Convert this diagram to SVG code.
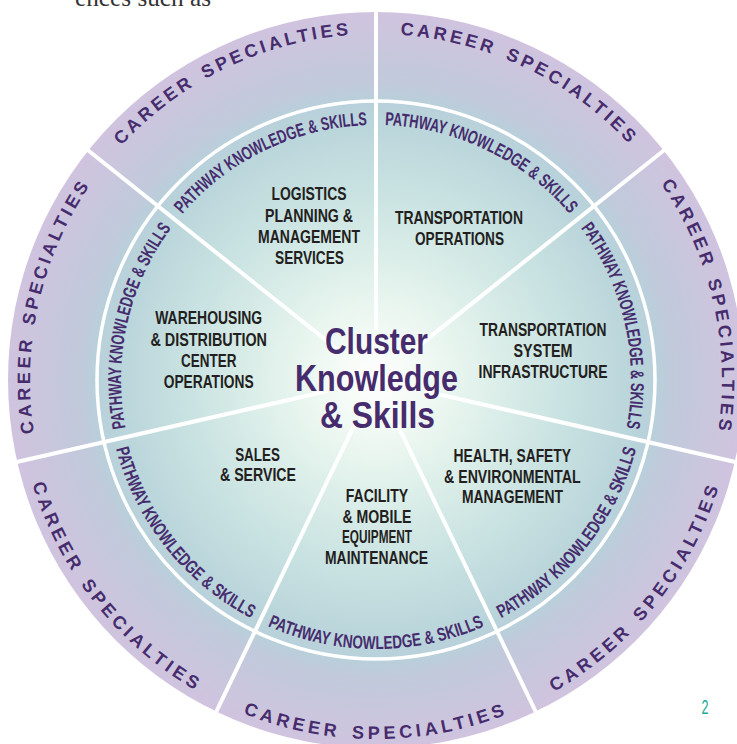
<svg xmlns="http://www.w3.org/2000/svg" width="737" height="744" viewBox="0 0 737 744">
<style>
.lbl{font-family:"Liberation Sans Narrow","Liberation Sans",Arial,sans-serif;font-weight:bold;font-size:18.5px;fill:#231f20;text-anchor:middle}
.ctr{font-family:"Liberation Sans Narrow","Liberation Sans",Arial,sans-serif;font-weight:bold;font-size:37.5px;fill:#462c6d;text-anchor:middle}
.pw{font-family:"Liberation Sans Narrow","Liberation Sans",Arial,sans-serif;font-weight:bold;font-size:18.5px;fill:#462c6d;text-anchor:middle}
.cs{font-family:"Liberation Sans",Arial,sans-serif;font-weight:bold;font-size:18px;fill:#462c6d;text-anchor:middle}
.spoke{stroke:#ffffff;stroke-width:4;fill:none}
</style>
<defs>
<radialGradient id="bg" cx="376" cy="380" r="368" gradientUnits="userSpaceOnUse">
<stop offset="0" stop-color="#ffffff"/>
<stop offset="0.12" stop-color="#f3faf5"/>
<stop offset="0.30" stop-color="#dff0ea"/>
<stop offset="0.50" stop-color="#cae3e2"/>
<stop offset="0.70" stop-color="#bad5db"/>
<stop offset="0.76" stop-color="#b8d0da"/>
<stop offset="0.80" stop-color="#c0cadb"/>
<stop offset="0.92" stop-color="#cac6dd"/>
<stop offset="1" stop-color="#d0c3df"/>
</radialGradient>
<path id="pw1" d="M165.31,236.35 A255,255 0 0 1 395.06,125.71"/>
<path id="pw2" d="M356.94,125.71 A255,255 0 0 1 586.69,236.35"/>
<path id="pw3" d="M562.93,206.56 A255,255 0 0 1 619.67,455.16"/>
<path id="pw4" d="M474.28,630.40 A269,269 0 0 0 642.00,420.09"/>
<path id="pw5" d="M241.5,612.96 A269,269 0 0 0 510.5,612.96"/>
<path id="pw6" d="M110.00,420.09 A269,269 0 0 0 277.72,630.40"/>
<path id="pw7" d="M132.33,455.16 A255,255 0 0 1 189.07,206.56"/>
<path id="cs1" d="M90.12,185.09 A346,346 0 0 1 401.86,34.97"/>
<path id="cs2" d="M350.14,34.97 A346,346 0 0 1 661.88,185.09"/>
<path id="cs3" d="M629.64,144.66 A346,346 0 0 1 706.63,481.99"/>
<path id="cs4" d="M507.16,714.18 A359,359 0 0 0 730.99,433.51"/>
<path id="cs5" d="M196.5,690.90 A359,359 0 0 0 555.5,690.90"/>
<path id="cs6" d="M21.01,433.51 A359,359 0 0 0 244.84,714.18"/>
<path id="cs7" d="M45.37,481.99 A346,346 0 0 1 122.36,144.66"/>
</defs>

<text x="75" y="5.5" font-family="Liberation Serif,serif" font-size="25" fill="#333333" textLength="136" lengthAdjust="spacingAndGlyphs">ences such as</text>

<circle id="disc" cx="376" cy="380" r="368" fill="url(#bg)"/>

<g id="connectors">
<line class="spoke" x1="376" y1="330" x2="376" y2="8"/>
<line class="spoke" x1="415.09" y1="348.83" x2="666.84" y2="148.06"/>
<line class="spoke" x1="424.75" y1="391.13" x2="738.67" y2="462.78"/>
<line class="spoke" x1="397.69" y1="425.05" x2="537.40" y2="715.16"/>
<line class="spoke" x1="354.31" y1="425.05" x2="214.60" y2="715.16"/>
<line class="spoke" x1="327.25" y1="391.13" x2="13.33" y2="462.78"/>
<line class="spoke" x1="336.91" y1="348.83" x2="85.16" y2="148.06"/>
<circle cx="376" cy="380" r="279" fill="none" stroke="#ffffff" stroke-width="3.5"/>
</g>

<g id="center">
<text class="ctr"><tspan x="376.5" y="354" textLength="103" lengthAdjust="spacingAndGlyphs">Cluster</tspan><tspan x="376.5" y="391" textLength="163" lengthAdjust="spacingAndGlyphs">Knowledge</tspan><tspan x="377.5" y="428" textLength="115" lengthAdjust="spacingAndGlyphs">&amp; Skills</tspan></text>
</g>

<g id="logistics">
<text class="lbl"><tspan x="309" y="200" textLength="75" lengthAdjust="spacingAndGlyphs">LOGISTICS</tspan><tspan x="309" y="221.5" textLength="88" lengthAdjust="spacingAndGlyphs">PLANNING &amp;</tspan><tspan x="309" y="242.5" textLength="102" lengthAdjust="spacingAndGlyphs">MANAGEMENT</tspan><tspan x="309.5" y="263.5" textLength="69" lengthAdjust="spacingAndGlyphs">SERVICES</tspan></text>
<text class="pw"><textPath href="#pw1" startOffset="50%" textLength="211" lengthAdjust="spacingAndGlyphs">PATHWAY KNOWLEDGE &amp; SKILLS</textPath></text>
<text class="cs" letter-spacing="3.4" word-spacing="3"><textPath href="#cs1" startOffset="50%">CAREER SPECIALTIES</textPath></text>
</g>

<g id="transportation-operations">
<text class="lbl"><tspan x="459" y="223.5" textLength="128" lengthAdjust="spacingAndGlyphs">TRANSPORTATION</tspan><tspan x="459.5" y="245" textLength="89" lengthAdjust="spacingAndGlyphs">OPERATIONS</tspan></text>
<text class="pw"><textPath href="#pw2" startOffset="50%" textLength="211" lengthAdjust="spacingAndGlyphs">PATHWAY KNOWLEDGE &amp; SKILLS</textPath></text>
<text class="cs" letter-spacing="3.4" word-spacing="3"><textPath href="#cs2" startOffset="50%">CAREER SPECIALTIES</textPath></text>
</g>

<g id="transportation-infrastructure">
<text class="lbl"><tspan x="543" y="336" textLength="127" lengthAdjust="spacingAndGlyphs">TRANSPORTATION</tspan><tspan x="543" y="357" textLength="59" lengthAdjust="spacingAndGlyphs">SYSTEM</tspan><tspan x="543" y="377.5" textLength="129" lengthAdjust="spacingAndGlyphs">INFRASTRUCTURE</tspan></text>
<text class="pw"><textPath href="#pw3" startOffset="50%" textLength="211" lengthAdjust="spacingAndGlyphs">PATHWAY KNOWLEDGE &amp; SKILLS</textPath></text>
<text class="cs" letter-spacing="3.4" word-spacing="3"><textPath href="#cs3" startOffset="50%">CAREER SPECIALTIES</textPath></text>
</g>

<g id="health-safety">
<text class="lbl"><tspan x="512.3" y="461.5" textLength="117.5" lengthAdjust="spacingAndGlyphs">HEALTH, SAFETY</tspan><tspan x="512.3" y="482.5" textLength="136.5" lengthAdjust="spacingAndGlyphs">&amp; ENVIRONMENTAL</tspan><tspan x="512.5" y="503" textLength="101" lengthAdjust="spacingAndGlyphs">MANAGEMENT</tspan></text>
<text class="pw"><textPath href="#pw4" startOffset="50%" textLength="223" lengthAdjust="spacingAndGlyphs">PATHWAY KNOWLEDGE &amp; SKILLS</textPath></text>
<text class="cs" letter-spacing="3.96" word-spacing="3"><textPath href="#cs4" startOffset="50%">CAREER SPECIALTIES</textPath></text>
</g>

<g id="facility-maintenance">
<text class="lbl"><tspan x="377" y="501.5" textLength="62.5" lengthAdjust="spacingAndGlyphs">FACILITY</tspan><tspan x="377" y="522.5" textLength="69" lengthAdjust="spacingAndGlyphs">&amp; MOBILE</tspan><tspan x="377" y="543.3" textLength="70" lengthAdjust="spacingAndGlyphs">EQUIPMENT</tspan><tspan x="376.5" y="564" textLength="103" lengthAdjust="spacingAndGlyphs">MAINTENANCE</tspan></text>
<text class="pw"><textPath href="#pw5" startOffset="50%" textLength="223" lengthAdjust="spacingAndGlyphs">PATHWAY KNOWLEDGE &amp; SKILLS</textPath></text>
<text class="cs" letter-spacing="3.96" word-spacing="3"><textPath href="#cs5" startOffset="50%">CAREER SPECIALTIES</textPath></text>
</g>

<g id="sales-service">
<text class="lbl"><tspan x="257.5" y="460.5" textLength="44.7" lengthAdjust="spacingAndGlyphs">SALES</tspan><tspan x="258" y="481" textLength="76" lengthAdjust="spacingAndGlyphs">&amp; SERVICE</tspan></text>
<text class="pw"><textPath href="#pw6" startOffset="50%" textLength="223" lengthAdjust="spacingAndGlyphs">PATHWAY KNOWLEDGE &amp; SKILLS</textPath></text>
<text class="cs" letter-spacing="3.96" word-spacing="3"><textPath href="#cs6" startOffset="50%">CAREER SPECIALTIES</textPath></text>
</g>

<g id="warehousing">
<text class="lbl"><tspan x="208.7" y="324.3" textLength="107" lengthAdjust="spacingAndGlyphs">WAREHOUSING</tspan><tspan x="208.7" y="345.5" textLength="116.6" lengthAdjust="spacingAndGlyphs">&amp; DISTRIBUTION</tspan><tspan x="208.7" y="366.6" textLength="55.4" lengthAdjust="spacingAndGlyphs">CENTER</tspan><tspan x="208.7" y="387.8" textLength="90" lengthAdjust="spacingAndGlyphs">OPERATIONS</tspan></text>
<text class="pw"><textPath href="#pw7" startOffset="50%" textLength="211" lengthAdjust="spacingAndGlyphs">PATHWAY KNOWLEDGE &amp; SKILLS</textPath></text>
<text class="cs" letter-spacing="3.4" word-spacing="3"><textPath href="#cs7" startOffset="50%">CAREER SPECIALTIES</textPath></text>
</g>

<text x="705" y="713.5" font-family="Liberation Sans Narrow,Liberation Sans,sans-serif" font-size="20" fill="#1aaa96" text-anchor="middle" textLength="7" lengthAdjust="spacingAndGlyphs">2</text>
</svg>
